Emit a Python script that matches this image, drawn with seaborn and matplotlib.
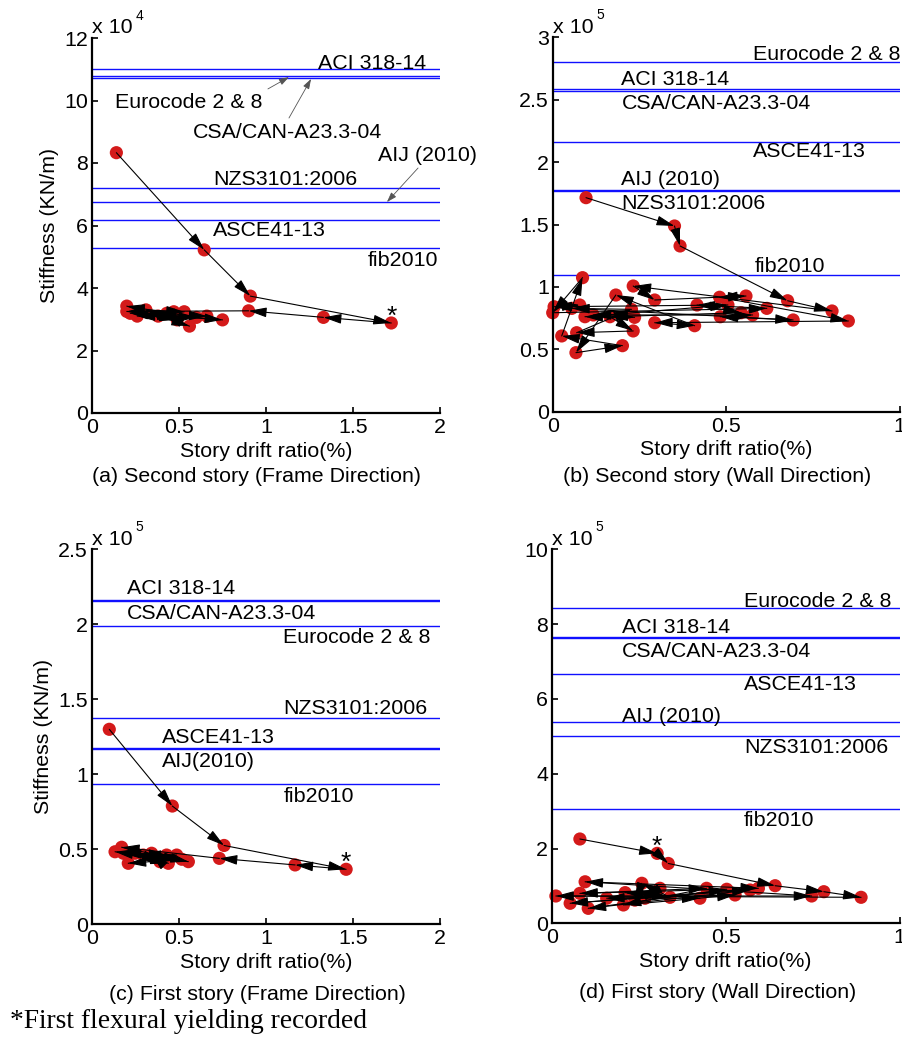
import matplotlib
matplotlib.use("Agg")
import matplotlib.pyplot as plt
import numpy as np
import pandas as pd
import seaborn as sns

# ---------------------------------------------------------------------------
# Measured secant stiffness vs. story drift, listed in loading order
# (drift in %, stiffness in KN/m)
# ---------------------------------------------------------------------------
drift_a = [0.14, 0.645, 0.91, 1.72, 1.33, 0.90, 0.20, 0.75, 0.22, 0.66,
           0.26, 0.60, 0.20, 0.56, 0.31, 0.53, 0.38, 0.49, 0.43, 0.47]
stiff_a = [83300, 52200, 37400, 28800, 30600, 32700, 32500, 29800, 31900, 31000,
           31000, 30600, 34200, 27800, 33000, 32400, 31000, 29800, 31900, 32400]

drift_b = [0.096, 0.351, 0.367, 0.677, 0.805, 0.232, 0.294, 0.557, 0.481, 0.852,
           0.294, 0.409, 0.182, 0.067, 0.201, 0.026, 0.086, 0.000, 0.617, 0.416,
           0.543, 0.165, 0.232, 0.069, 0.227, 0.055, 0.693, 0.483, 0.576, 0.117,
           0.236, 0.093, 0.505, 0.004, 0.078]
stiff_b = [171500, 148800, 132800, 88900, 80700, 100700, 89500, 92700, 91700, 72700,
           71300, 68900, 93500, 47300, 52900, 60700, 107400, 79300, 82800, 85500,
           79300, 76100, 64700, 63300, 82000, 82800, 73500, 76100, 77500, 77500,
           75600, 76100, 85500, 84100, 85500]

drift_c = [0.101, 0.463, 0.760, 1.461, 1.168, 0.733, 0.172, 0.555, 0.134, 0.517,
           0.210, 0.488, 0.182, 0.440, 0.249, 0.430, 0.296, 0.392, 0.344]
stiff_c = [129900, 78700, 52400, 36500, 39400, 43800, 51200, 41600, 48200, 43200,
           40500, 46000, 47200, 40500, 47200, 46000, 46000, 41600, 47200]

drift_d = [0.081, 0.303, 0.335, 0.642, 0.782, 0.889, 0.012, 0.747, 0.096, 0.594,
           0.053, 0.570, 0.105, 0.503, 0.081, 0.445, 0.206, 0.527, 0.158, 0.426,
           0.211, 0.340, 0.259, 0.239, 0.311, 0.268]
stiff_d = [225400, 187000, 160000, 100500, 84500, 69500, 73000, 73000, 111000, 93600,
           53500, 89000, 40000, 91000, 80000, 93600, 49000, 75700, 67000, 67000,
           82000, 69500, 107000, 62000, 93600, 67000]

# first flexural yielding (index into the series above)
yield_a, yield_c, yield_d = 3, 3, 1

# Code-predicted stiffness (KN/m)
code_names = ["ACI 318-14", "Eurocode 2 & 8", "CSA/CAN-A23.3-04",
              "NZS3101:2006", "ASCE41-13", "AIJ (2010)", "fib2010"]
code_a = [110000, 107800, 107300, 72100, 61800, 67400, 52700]
code_b = [258600, 280500, 257000, 177000, 216300, 177500, 109300]
code_c = [216500, 198800, 215800, 137400, 117600, 116700, 93200]
code_d = [766000, 842000, 762000, 501000, 667000, 539000, 305000]

captions = ["(a) Second story (Frame Direction)", "(b) Second story (Wall Direction)",
            "(c) First story (Frame Direction)", "(d) First story (Wall Direction)"]

# ---------------------------------------------------------------------------
FS = 15.4
sns.set_theme(style="ticks")
plt.rcParams.update({
    "font.family": ["Liberation Sans", "DejaVu Sans"],
    "font.size": FS,
    "axes.labelsize": FS,
    "axes.linewidth": 1.6,
    "axes.edgecolor": "black",
    "axes.labelcolor": "black",
    "text.color": "black",
    "xtick.color": "black",
    "ytick.color": "black",
    "xtick.direction": "in",
    "ytick.direction": "in",
    "xtick.major.size": 4,
    "ytick.major.size": 4,
    "xtick.major.width": 1.2,
    "ytick.major.width": 1.2,
    "xtick.labelsize": FS,
    "ytick.labelsize": FS,
})

W, H = 902, 1042
fig = plt.figure(figsize=(W / 100, H / 100), dpi=100)


def px_axes(l, t, r, b):
    return fig.add_axes([l / W, 1 - b / H, (r - l) / W, (b - t) / H])


RED = "#d41a1a"
BLUE = "#1010ff"


def panel(ax, drift, stiff, scale, power, xmax, xstep, ymax, ystep,
          codes, label_pos, label_text, star=None, ylabel=True):
    y = np.asarray(stiff, float) / scale
    df = pd.DataFrame({"drift": drift, "stiff": y})

    for val in codes:
        ax.axhline(val / scale, color=BLUE, lw=1.0, zorder=1)

    sns.scatterplot(data=df, x="drift", y="stiff", ax=ax, color=RED, s=90,
                    linewidth=0, edgecolor="none", zorder=2, clip_on=False,
                    legend=False)

    for i in range(len(df) - 1):
        ax.annotate("", xy=(df.drift[i + 1], df.stiff[i + 1]),
                    xytext=(df.drift[i], df.stiff[i]),
                    arrowprops=dict(arrowstyle="-|>,head_length=1.1,head_width=0.3",
                                    mutation_scale=10, color="black", lw=0.8,
                                    shrinkA=0, shrinkB=0),
                    zorder=3)

    if star is not None:
        ax.annotate("*", xy=(df.drift[star], df.stiff[star]), xytext=(0, -0.5),
                    textcoords="offset points", ha="center", va="baseline",
                    fontsize=19, zorder=4)

    for name, (lx, ly) in zip(label_text, label_pos):
        ax.text(lx, ly, name, ha="left", va="baseline", fontsize=FS, zorder=4)

    ax.set_xlim(0, xmax)
    ax.set_ylim(0, ymax)
    ax.set_xticks(np.arange(0, xmax + 1e-9, xstep))
    ax.set_yticks(np.arange(0, ymax + 1e-9, ystep))
    ax.xaxis.set_major_formatter(matplotlib.ticker.FormatStrFormatter("%g"))
    ax.yaxis.set_major_formatter(matplotlib.ticker.FormatStrFormatter("%g"))
    ax.tick_params(axis="x", pad=3.5)
    ax.tick_params(axis="y", pad=2.7)
    for s in ("top", "right"):
        ax.spines[s].set_visible(False)

    ax.set_xlabel("Story drift ratio(%)", labelpad=3.5, fontsize=FS)
    if ylabel:
        ax.set_ylabel("Stiffness (KN/m)", labelpad=4, fontsize=FS)
    else:
        ax.set_ylabel("")

    ax.annotate("x 10", xy=(0, 1), xycoords="axes fraction", xytext=(0, 3.4),
                textcoords="offset points", ha="left", va="baseline", fontsize=FS)
    ax.annotate(str(power), xy=(0, 1), xycoords="axes fraction", xytext=(31.5, 13.0),
                textcoords="offset points", ha="left", va="baseline", fontsize=10)


ax_a = px_axes(92, 38, 440, 413)
ax_b = px_axes(552.7, 37.3, 899.7, 411.7)
ax_c = px_axes(91.7, 549.3, 440, 924)
ax_d = px_axes(551.7, 549.3, 899.7, 923.3)

names_c = ["ACI 318-14", "Eurocode 2 & 8", "CSA/CAN-A23.3-04",
           "NZS3101:2006", "ASCE41-13", "AIJ(2010)", "fib2010"]

panel(ax_a, drift_a, stiff_a, 1e4, 4, 2, 0.5, 12, 2, code_a,
      [(1.30, 11.02), (0.132, 9.75), (0.58, 8.81), (0.695, 7.30),
       (0.695, 5.66), (1.644, 8.06), (1.586, 4.71)],
      code_names, star=yield_a)
panel(ax_b, drift_b, stiff_b, 1e5, 5, 1, 0.5, 3, 0.5, code_b,
      [(0.198, 2.618), (0.578, 2.818), (0.198, 2.423), (0.198, 1.624),
       (0.578, 2.038), (0.198, 1.817), (0.581, 1.117)],
      code_names, ylabel=False)
panel(ax_c, drift_c, stiff_c, 1e5, 5, 2, 0.5, 2.5, 0.5, code_c,
      [(0.201, 2.201), (1.099, 1.877), (0.201, 2.033), (1.099, 1.399),
       (0.402, 1.21), (0.402, 1.049), (1.105, 0.816)],
      names_c, star=yield_c)
panel(ax_d, drift_d, stiff_d, 1e5, 5, 1, 0.5, 10, 2, code_d,
      [(0.201, 7.75), (0.553, 8.45), (0.201, 7.11), (0.553, 4.55),
       (0.553, 6.24), (0.201, 5.39), (0.553, 2.60)],
      code_names, star=yield_d, ylabel=False)

# call-outs for the closely spaced lines in panel (a)
callout = dict(arrowstyle="-|>,head_length=0.6,head_width=0.2", mutation_scale=10,
               color="#555555", lw=0.6, shrinkA=0, shrinkB=0)
ax_a.annotate("", xy=(1.132, 10.75), xytext=(1.011, 10.37), arrowprops=callout)
ax_a.annotate("", xy=(1.259, 10.69), xytext=(1.132, 9.44), arrowprops=callout)
ax_a.annotate("", xy=(1.695, 6.75), xytext=(1.874, 7.84), arrowprops=callout)

# sub-figure captions
for (cx, cy), txt in zip([(256.7, 482), (717.5, 482), (257, 1000), (717.5, 998)],
                         captions):
    fig.text(cx / W, 1 - cy / H, txt, ha="center", va="baseline", fontsize=FS)

fig.text(10 / W, 1 - 1028 / H, "*First flexural yielding recorded",
         ha="left", va="baseline", fontsize=19.8,
         family=["Liberation Serif", "DejaVu Serif"])

fig.savefig("out.png", dpi=100)
